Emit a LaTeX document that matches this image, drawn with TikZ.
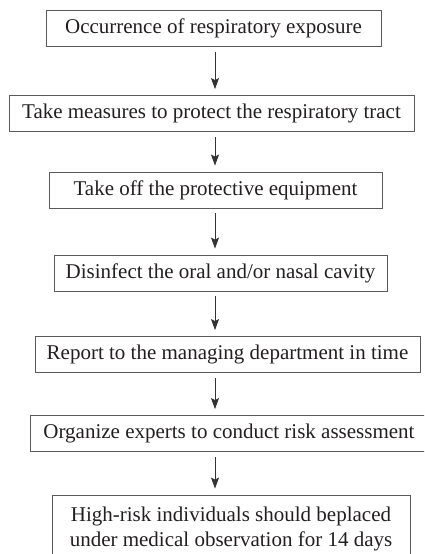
\documentclass[tikz,border=0pt]{standalone}
\usepackage{fontspec}
\setmainfont{Liberation Serif}
\usepackage{tikz}
\usetikzlibrary{arrows.meta}
\usetikzlibrary{calc}

\definecolor{boxline}{HTML}{5A5A5A}
\definecolor{arrline}{HTML}{333333}
\definecolor{ink}{HTML}{231F20}

\begin{document}
\begin{tikzpicture}[x=1pt, y=-1pt, thin, font=\fontsize{21}{25}\selectfont,
    main/.style = {draw=boxline, line width=0.85pt, text=ink, minimum height=36pt, inner sep=0pt, align=center},
    arr/.style = {draw=arrline, line width=0.9pt, -{Stealth[length=11pt, width=8pt, inset=2pt]}, shorten <=5pt, shorten >=6pt}]

    \path[use as bounding box, clip] (0, 0) rectangle (424, 554);

    \coordinate (ax) at (215, 0);

    \node [main, minimum width=335pt] (expo) at (213.5, 28.5) {Occurrence of respiratory exposure};
    \node [main, minimum width=405pt] (protect) at (211.5, 113.5) {Take measures to protect the respiratory tract};
    \node [main, minimum width=333pt] (takeoff) at (215.5, 190) {Take off the protective equipment};
    \node [main, minimum width=333pt] (disinf) at (220.5, 273) {Disinfect the oral and/or nasal cavity};
    \node [main, minimum width=385pt] (report) at (227.5, 354.5) {Report to the managing department in time};
    \node [main, minimum width=398pt] (assess) at (229, 433.5) {Organize experts to conduct risk assessment};
    \node [main, minimum width=358pt, minimum height=68pt] (observe) at (231, 529) {High-risk individuals should beplaced\\under medical observation for 14 days};


    \draw[arr] (expo.south -| ax) to (protect.north -| ax);
    \draw[arr] (protect.south -| ax) to (takeoff.north -| ax);
    \draw[arr] (takeoff.south -| ax) to (disinf.north -| ax);
    \draw[arr] (disinf.south -| ax) to (report.north -| ax);
    \draw[arr] (report.south -| ax) to (assess.north -| ax);
    \draw[arr] (assess.south -| ax) to (observe.north -| ax);

\end{tikzpicture}
\end{document}
